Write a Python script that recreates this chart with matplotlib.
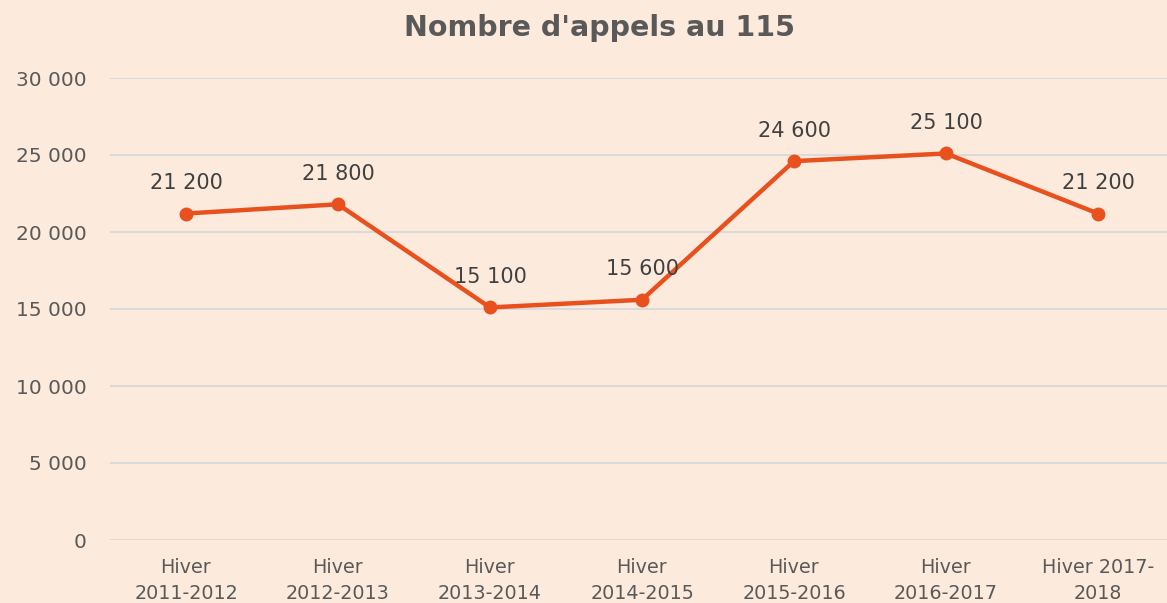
import matplotlib
matplotlib.use("Agg")
import matplotlib.pyplot as plt
from matplotlib.ticker import FuncFormatter

categories = ["Hiver\n2011-2012", "Hiver\n2012-2013", "Hiver\n2013-2014", "Hiver\n2014-2015",
              "Hiver\n2015-2016", "Hiver\n2016-2017", "Hiver 2017-\n2018"]
values = [21200, 21800, 15100, 15600, 24600, 25100, 21200]
yticks = [0, 5000, 10000, 15000, 20000, 25000, 30000]

bg = "#FCEBDD"
line_color = "#E8501E"
text_color = "#595959"

plt.rcParams['font.family'] = ['DejaVu Sans']
fig = plt.figure(figsize=(11.67, 6.03), dpi=100, facecolor=bg)
ax = fig.add_axes([110/1167, 63/603, 1064/1167, 462/603])
ax.set_facecolor(bg)

x = list(range(len(categories)))
ax.plot(x, values, color=line_color, lw=3.2, marker="o", markersize=9, zorder=3, clip_on=False)

def fmt(v):
    return f"{int(v):,}".replace(",", " ")

for xi, v in zip(x, values):
    ax.annotate(fmt(v), (xi, v), xytext=(0, 22), textcoords="offset points",
                ha="center", va="center", fontsize=15, color="#404040")

ax.set_xlim(-0.5, len(categories) - 0.5)
ax.set_ylim(0, 30000)
ax.set_yticks(yticks)
ax.yaxis.set_major_formatter(FuncFormatter(lambda v, p: fmt(v)))
ax.set_xticks(x)
ax.set_xticklabels(categories)
ax.tick_params(axis="both", length=0, labelcolor=text_color)
ax.tick_params(axis="y", pad=17, labelsize=14.5)
ax.tick_params(axis="x", pad=13, labelsize=13.8)
for lab in ax.get_xticklabels():
    lab.set_linespacing(1.45)

ax.grid(axis="y", color="#D9D9D9", lw=1.3)
ax.set_axisbelow(True)
for s in ax.spines.values():
    s.set_visible(False)

fig.text(600/1167, 1 - 28/603, "Nombre d'appels au 115", ha="center", va="center",
         fontsize=20.5, fontweight="bold", color=text_color)

fig.savefig("out.png", dpi=100, facecolor=bg)
